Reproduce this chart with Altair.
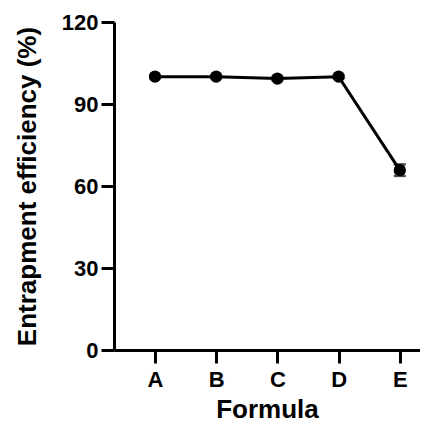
import altair as alt
import pandas as pd

formulas = ["A", "B", "C", "D", "E"]
efficiency = [100.0, 100.0, 99.3, 100.0, 65.8]
sd = [0.5, 0.5, 0.6, 0.5, 2.1]

df = pd.DataFrame({"Formula": formulas, "EE": efficiency, "SD": sd})
df["idx"] = list(range(1, len(formulas) + 1))
df["lo"] = df["EE"] - df["SD"]
df["hi"] = df["EE"] + df["SD"]

FONT = "Liberation Sans"
label_expr = "['', 'A', 'B', 'C', 'D', 'E'][datum.value]"

def x_enc():
    return alt.X("idx:Q", title="Formula",
                 scale=alt.Scale(domain=[0.33, 5.33], nice=False, zero=False),
                 axis=alt.Axis(values=[1, 2, 3, 4, 5], labelExpr=label_expr,
                               labelAngle=0, labelFontSize=22, labelFontWeight="bold",
                               labelFont=FONT, titleFont=FONT, titleFontSize=26,
                               titleFontWeight="bold", tickSize=13, tickWidth=3,
                               domainWidth=3, labelPadding=6, titlePadding=6,
                               grid=False, gridOpacity=0, domainColor="black",
                               tickColor="black", labelColor="black", titleColor="black"))

def y_enc(field):
    return alt.Y(field, title="Entrapment efficiency (%)",
                 scale=alt.Scale(domain=[0, 120], nice=False),
                 axis=alt.Axis(values=[0, 30, 60, 90, 120], labelFontSize=22,
                               labelFontWeight="bold", labelFont=FONT, titleFont=FONT,
                               titleFontSize=26, titleFontWeight="bold", tickSize=13,
                               tickWidth=3, domainWidth=3, labelPadding=3,
                               titlePadding=21, grid=False, gridOpacity=0,
                               domainColor="black", tickColor="black",
                               labelColor="black", titleColor="black"))

base = alt.Chart(df)
line = base.mark_line(color="black", strokeWidth=3).encode(x=x_enc(), y=y_enc("EE:Q"))
pts = base.mark_circle(color="black", size=150, opacity=1).encode(x=x_enc(), y=y_enc("EE:Q"))
err = base.mark_errorbar(ticks=alt.MarkConfig(size=12, strokeWidth=2.5), color="black",
                         thickness=2.5).encode(x=x_enc(), y=y_enc("lo:Q"), y2="hi:Q")

chart = (line + pts + err).properties(
    width=306, height=328,
    autosize=alt.AutoSizeParams(type="none"),
    padding={"left": 106, "top": 14, "right": 0, "bottom": 74},
    view=alt.ViewBackground(stroke="white", strokeOpacity=0, strokeWidth=0),
).configure_view(stroke="white", strokeOpacity=0, strokeWidth=0).configure_axis(
    grid=False
).configure(font=FONT)

chart.save("out.html", embed_options={"renderer": "svg", "actions": False})
